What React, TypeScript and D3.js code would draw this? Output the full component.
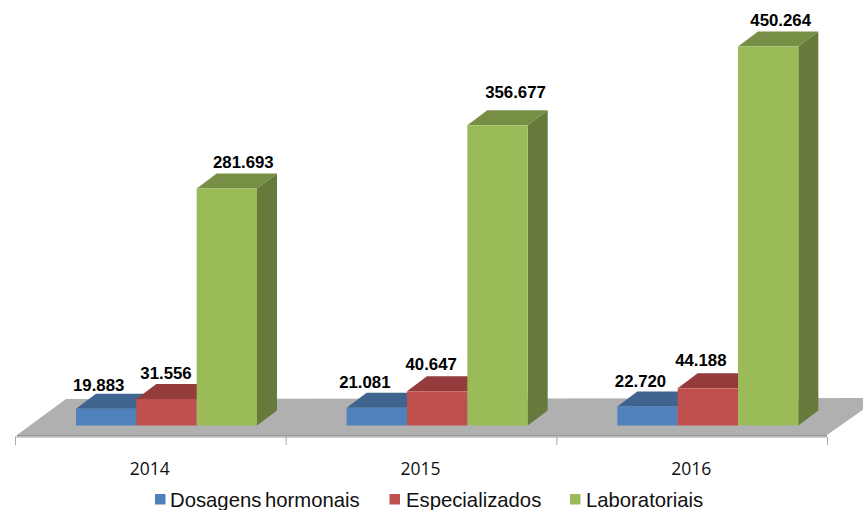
import React from "react";
import * as d3 from "d3";

const categories = ["2014", "2015", "2016"];
const seriesNames = ["Dosagens hormonais", "Especializados", "Laboratoriais"];
const dosagens = [19883, 21081, 22720];
const especializados = [31556, 40647, 44188];
const laboratoriais = [281693, 356677, 450264];
const seriesValues = [dosagens, especializados, laboratoriais];
const frontColors = ["#4f81bd", "#c0504d", "#9bbb59"];
const topColors = ["#3e648f", "#933c3b", "#778f45"];
const sideColors = ["#355a85", "#8a3836", "#657a3b"];
// hand-placed data label offsets, [dx from bar centre, dy above bar back edge]
const labelDx = [
  [-7.5, -0.5, 16.5],
  [-12, -6, 18],
  [-7, -7, 12.5],
];
const labelDy = [
  [3, 5, 5],
  [5, 6, 12],
  [4, 7, 6],
];
const legendX = [155, 389.5, 570];
const legendTextX = [170, 406, 586];

const W = 863;
const H = 510;
const baseY = 425.5;
const depthX = 20;
const depthY = 15;
const axisY = 437;
const axisL = 15;
const axisR = 827;

const x0 = d3.scaleBand<string>().domain(categories).range([axisL, axisR]);
const x1 = d3.scaleBand<string>().domain(seriesNames).range([61, 242]);
const y = d3.scaleLinear().domain([0, 450264]).range([baseY, 46.5]);
const pts = (p: number[][]) => p.map((q) => q.join(",")).join(" ");
const fmt = (v: number) => d3.format(",")(v).replace(/,/g, ".");

export default function App() {
  const ticks = [...categories.map((c) => x0(c)!), axisR];
  return (
    <svg width={W} height={H} style={{ position: "absolute", left: 0, top: 0, display: "block", background: "#fff" }}>
      <polygon points={pts([[17, 435], [66, 399], [880, 398], [827, 435]])} fill="#b0b0b0" />
      <rect x={17} y={435} width={810} height={1.5} fill="#9a9a9a" />
      <line x1={axisL} x2={axisR} y1={axisY} y2={axisY} stroke="#a6a6a6" />
      {ticks.map((t, i) => (
        <line key={i} x1={t + 0.5} x2={t + 0.5} y1={axisY} y2={445} stroke="#a6a6a6" />
      ))}
      {categories.map((c, ci) => (
        <g key={c}>
          {seriesNames.map((s, si) => {
            const l = x0(c)! + x1(s)!;
            const r = l + x1.bandwidth();
            const t = y(seriesValues[si][ci]);
            return (
              <g key={s}>
                <polygon points={pts([[l, t], [l + depthX, t - depthY], [r + depthX, t - depthY], [r, t]])} fill={topColors[si]} />
                <polygon points={pts([[r, t], [r + depthX, t - depthY], [r + depthX, baseY - depthY], [r, baseY]])} fill={sideColors[si]} />
                <rect x={l} y={t} width={r - l} height={baseY - t} fill={frontColors[si]} />
              </g>
            );
          })}
          {seriesNames.map((s, si) => {
            const l = x0(c)! + x1(s)!;
            const t = y(seriesValues[si][ci]);
            return (
              <text
                key={s}
                x={l + x1.bandwidth() / 2 + labelDx[ci][si]}
                y={t - depthY - labelDy[ci][si]}
                textAnchor="middle"
                fontFamily="Liberation Sans"
                fontWeight="bold"
                fontSize={16.8}
                fill="#000"
              >
                {fmt(seriesValues[si][ci])}
              </text>
            );
          })}
          <text x={x0(c)! + x0.bandwidth() / 2 - 0.5} y={475} textAnchor="middle" fontFamily="Open Sans" fontSize={17.5} fill="#111">
            {c}
          </text>
        </g>
      ))}
      {seriesNames.map((s, si) => (
        <g key={s}>
          <rect x={legendX[si]} y={494} width={10.5} height={10.5} fill={frontColors[si]} />
          <text x={legendTextX[si]} y={506.5} fontFamily="Liberation Sans" fontSize={20.3} wordSpacing={-2} fill="#111">
            {s}
          </text>
        </g>
      ))}
    </svg>
  );
}
